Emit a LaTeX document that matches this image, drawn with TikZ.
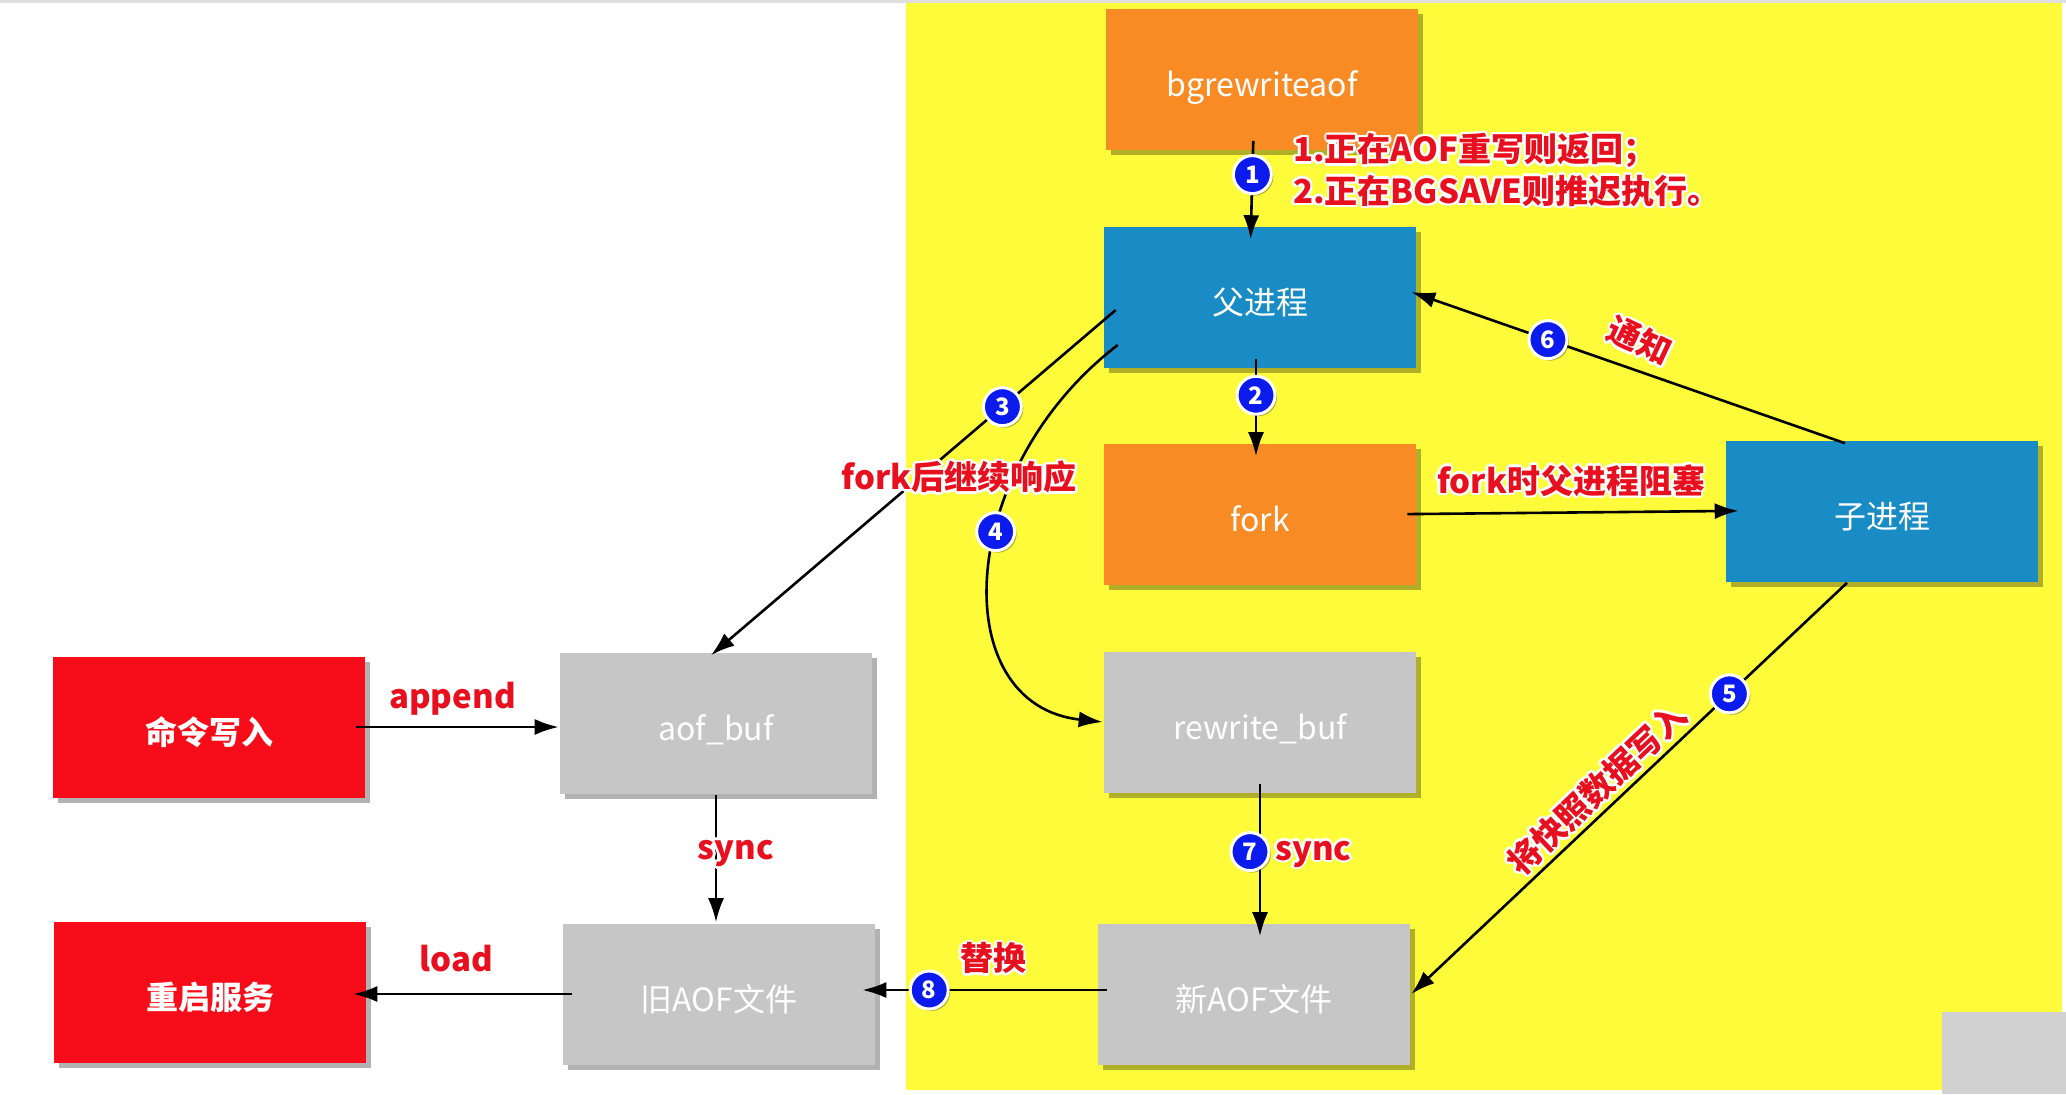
\documentclass[tikz,border=0pt]{standalone}
\usepackage{fontspec}
\setmainfont{Noto Sans CJK SC}
\usetikzlibrary{arrows.meta,shadows,calc}
\definecolor{bgyellow}{HTML}{FEFC3A}
\definecolor{boxorange}{HTML}{F98B25}
\definecolor{boxblue}{HTML}{198BC5}
\definecolor{boxred}{HTML}{F70D1A}
\definecolor{boxgray}{HTML}{C6C6C6}
\definecolor{numblue}{HTML}{0B1BEE}
\definecolor{lblred}{HTML}{E8101E}
\newcommand\hcopy[3]{\makebox[0pt][l]{\hspace*{#1}\raisebox{#2}{#3}}}
\newcommand\halo[1]{{\color{white}%
  \hcopy{1.3pt}{0pt}{#1}\hcopy{-1.3pt}{0pt}{#1}\hcopy{0pt}{1.3pt}{#1}\hcopy{0pt}{-1.3pt}{#1}%
  \hcopy{.9pt}{.9pt}{#1}\hcopy{-.9pt}{.9pt}{#1}\hcopy{.9pt}{-.9pt}{#1}\hcopy{-.9pt}{-.9pt}{#1}}#1}
\begin{document}
\begin{tikzpicture}[x=0.5pt,y=-0.5pt,
    box/.style={minimum width=156pt,minimum height=70.5pt,inner sep=0pt,text=white,
      text height=17pt,text depth=0pt,font=\fontsize{16}{18}\selectfont,
      drop shadow={shadow xshift=2.5pt,shadow yshift=-2.5pt,opacity=0.3,fill=black}},
    orangebox/.style={box,fill=boxorange},
    bluebox/.style={box,fill=boxblue},
    redbox/.style={box,fill=boxred,font=\bfseries\fontsize{16}{18}\selectfont},
    graybox/.style={box,fill=boxgray},
    num/.style={circle,fill=numblue,draw=white,line width=1.5pt,minimum size=19pt,
      inner sep=0pt,text=white,font=\bfseries\fontsize{12}{12}\selectfont,
      drop shadow={shadow xshift=1pt,shadow yshift=-1pt,opacity=0.3,fill=black}},
    lbl/.style={text=lblred,inner sep=1pt,font=\bfseries\fontsize{16.5}{18}\selectfont},
    over/.style={shorten <=-5pt,shorten >=-7pt},
    >={Latex[length=12pt,width=8pt]},line width=1.3pt]
  \useasboundingbox (0,0) rectangle (2066,1094);
  \fill[white] (0,0) rectangle (2066,1094);
  \fill[bgyellow] (906,3) rectangle (2062,1090);
  \fill[gray!25] (0,0) rectangle (2066,3);
  \fill[gray!35] (1942,1012) rectangle (2066,1094);
  \path
    (1262,79) node[orangebox] (bgrw) {bgrewriteaof}
    (1260,297) node[bluebox] (parent) {父进程}
    (1260,514) node[orangebox] (fork) {fork}
    (1882,511) node[bluebox] (child) {子进程}
    (1260,722) node[graybox] (rwbuf) {rewrite\_buf}
    (1254,994) node[graybox] (newaof) {新AOF文件}
    (209,727) node[redbox] (cmd) {命令写入}
    (716,723) node[graybox] (aofbuf) {aof\_buf}
    (210,992) node[redbox] (restart) {重启服务}
    (719,994) node[graybox] (oldaof) {旧AOF文件};
  \begin{scope}[->]
    \draw[over] ([xshift=-4.5pt]bgrw.south) -- ([xshift=-4.5pt]parent.north) node[num,pos=0.32] (n1) {1};
    \draw[over] ([xshift=-2pt]parent.south) -- ([xshift=-2pt]fork.north) node[num,pos=0.36] (n2) {2};
    \draw ($(parent.west)+(13,13)$) -- ($(aofbuf.north)+(-5,4)$) node[num,pos=0.28] (n3) {3};
    \draw ($(parent.west)+(15,48)$) .. controls (955,470) and (945,705) .. (rwbuf.west) node[num,pos=0.41] (n4) {4};
    \draw ($(child.south)+(-35,0)$) -- (newaof.east) node[num,pos=0.27] (n5) {5}
      node[lbl,pos=0.54,sloped,above] (lsnap) {\halo{将快照数据写入}};
    \draw ($(child.north)+(-37,4)$) -- ($(parent.east)+(-6,-5)$) node[num,pos=0.685] (n6) {6}
      node[lbl,pos=0.5,sloped,above=4pt,rotate=-6] (lnotify) {\halo{通知}};
    \draw[over] (fork.east) -- (child.west) node[lbl,midway,above=5pt] (lblock) {\halo{fork时父进程阻塞}};
    \draw[over] (rwbuf.south) -- (rwbuf.south |- newaof.north) node[num,pos=0.45,xshift=-5pt] (n7) {7}
      node[lbl,pos=0.47,right=6pt] (lsync2) {\halo{sync}};
    \draw[shorten <=-5pt] (cmd.east) -- (cmd.east -| aofbuf.west) node[lbl,midway,above=3pt,xshift=-5pt] (lappend) {\halo{append}};
    \draw (aofbuf.south) -- (aofbuf.south |- oldaof.north) node[lbl,pos=0.46,xshift=10pt] (lsync1) {\halo{sync}};
    \draw[over] (oldaof.west) -- (oldaof.west -| restart.east) node[lbl,midway,above=8pt,xshift=-4pt] (lload) {\halo{load}};
    \draw[over] ([yshift=2pt]newaof.west) -- ([yshift=2pt]oldaof.east) node[num,pos=0.76] (n8) {8}
      node[lbl,pos=0.47,above=5pt] (lswap) {\halo{替换}};
  \end{scope}
  \node[lbl] (lresume) at (959,477) {\halo{fork后继续响应}};
  \node[lbl,anchor=west,align=left,font=\bfseries\fontsize{16.5}{17.5}\selectfont] (lnote) at (1290,170)
    {\halo{1.正在AOF重写则返回；}\\\halo{2.正在BGSAVE则推迟执行。}};
\end{tikzpicture}
\end{document}
